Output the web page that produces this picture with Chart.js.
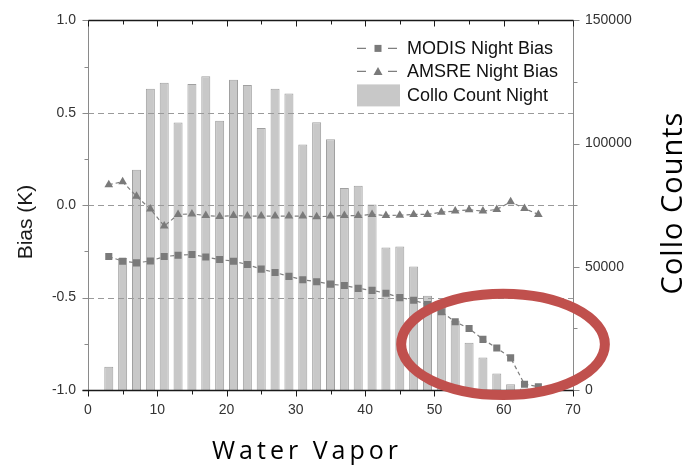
<!DOCTYPE html>
<html>
<head>
<meta charset="utf-8">
<script src="https://cdn.jsdelivr.net/npm/chart.js@4/dist/chart.umd.min.js"></script>
<style>
  html, body { margin: 0; padding: 0; background: #ffffff; }
  canvas { display: block; }
</style>
</head>
<body>
<canvas id="chart" width="687" height="467"></canvas>
<script>
// Water vapor bins (bin centres)
const waterVapor = [3, 5, 7, 9, 11, 13, 15, 17, 19, 21, 23, 25, 27, 29, 31, 33,
                    35, 37, 39, 41, 43, 45, 47, 49, 51, 53, 55, 57, 59, 61, 63, 65];

// Number of collocations per bin (night)
const colloCounts = [9400, 53600, 89400, 122300, 124700, 108600, 124200, 127300,
                     109300, 125900, 123800, 106300, 122300, 120300, 99600, 108700,
                     101800, 82000, 82900, 75300, 57800, 58200, 50100, 38300,
                     34300, 28200, 19200, 13200, 6700, 2300, 600, 300];

// Night-time bias (K)
const modisBias = [-0.278, -0.303, -0.312, -0.302, -0.278, -0.271, -0.267, -0.280,
                   -0.294, -0.303, -0.321, -0.346, -0.364, -0.385, -0.403, -0.414,
                   -0.427, -0.435, -0.450, -0.461, -0.476, -0.500, -0.514, -0.538,
                   -0.577, -0.631, -0.667, -0.726, -0.773, -0.826, -0.969, -0.982];

const amsreBias = [0.111, 0.127, 0.048, -0.020, -0.113, -0.050, -0.047, -0.056,
                   -0.061, -0.056, -0.059, -0.059, -0.059, -0.059, -0.059, -0.063,
                   -0.059, -0.056, -0.056, -0.050, -0.056, -0.054, -0.050, -0.050,
                   -0.038, -0.032, -0.025, -0.032, -0.023, 0.018, -0.018, -0.050];

// Axis ticks
const vaporTicks = [0, 10, 20, 30, 40, 50, 60, 70];
const biasTicks = [-1.0, -0.5, 0.0, 0.5, 1.0];
const countTicks = [0, 50000, 100000, 150000];
const biasGridLines = [-0.5, 0.0, 0.5];

// Highlighted high-vapour region (data units)
const highlightCenter = { x: 59.9, y: -0.753 };
const highlightRadius = { x: 14.7, y: 0.274 };

const TICK_FONT = { family: "'Liberation Sans', Arial, sans-serif", size: 14 };
const MARK_GREY = '#7a7a7a';

function midpoints(arr) {
  const out = [];
  for (let i = 0; i < arr.length - 1; i++) out.push((arr[i] + arr[i + 1]) / 2);
  return out;
}

const framePlugin = {
  id: 'frame',
  afterDatasetDraw(chart, args) {
    // dashed reference lines sit on top of the bars
    if (args.meta.type !== 'bar') return;
    const { ctx, chartArea } = chart;
    const yS = chart.scales.yBias;
    ctx.save();
    ctx.strokeStyle = '#9a9a9a';
    ctx.lineWidth = 1;
    ctx.setLineDash([6, 4]);
    biasGridLines.forEach(v => {
      const y = Math.round(yS.getPixelForValue(v)) + 0.5;
      ctx.beginPath();
      ctx.moveTo(chartArea.left, y);
      ctx.lineTo(chartArea.right, y);
      ctx.stroke();
    });
    ctx.restore();
  },
  afterDatasetsDraw(chart) {
    const { ctx, chartArea: a } = chart;
    const xS = chart.scales.x, yL = chart.scales.yBias, yR = chart.scales.yCount;
    const L = Math.round(a.left) + 0.5, R = Math.round(a.right) + 0.5;
    const T = Math.round(a.top) + 0.5, B = Math.round(a.bottom) + 0.5;
    ctx.save();
    ctx.setLineDash([]);
    ctx.lineWidth = 1;
    const seg = (x1, y1, x2, y2) => { ctx.beginPath(); ctx.moveTo(x1, y1); ctx.lineTo(x2, y2); ctx.stroke(); };

    // left and right axes (grey)
    ctx.strokeStyle = '#8a8a8a';
    seg(L, T, L, B);
    seg(R, T, R, B);
    biasTicks.forEach(v => { const y = Math.round(yL.getPixelForValue(v)) + 0.5; seg(L - 6, y, L, y); });
    midpoints(biasTicks).forEach(v => { const y = Math.round(yL.getPixelForValue(v)) + 0.5; seg(L - 4, y, L, y); });
    countTicks.forEach(v => { const y = Math.round(yR.getPixelForValue(v)) + 0.5; seg(R, y, R + 6, y); });
    midpoints(countTicks).forEach(v => { const y = Math.round(yR.getPixelForValue(v)) + 0.5; seg(R, y, R + 4, y); });

    // bottom and top frame (black)
    ctx.strokeStyle = '#1a1a1a';
    ctx.lineWidth = 1.3;
    seg(L - 6, B, R, B);
    seg(L, T, R, T);
    ctx.lineWidth = 1;
    vaporTicks.forEach(v => {
      const x = Math.round(xS.getPixelForValue(v)) + 0.5;
      seg(x, B, x, B + 6);
      seg(x, T, x, T + 6);
    });
    midpoints(vaporTicks).forEach(v => {
      const x = Math.round(xS.getPixelForValue(v)) + 0.5;
      seg(x, B, x, B + 4);
      seg(x, T, x, T + 4);
    });
    ctx.restore();
  },
  afterDraw(chart) {
    const { ctx, chartArea: a } = chart;
    const xS = chart.scales.x, yL = chart.scales.yBias;
    ctx.save();

    // axis titles
    ctx.fillStyle = '#1a1a1a';
    ctx.textAlign = 'center';
    ctx.textBaseline = 'middle';
    ctx.font = "21px 'Liberation Sans', Arial, sans-serif";
    ctx.save();
    ctx.translate(26, 222);
    ctx.rotate(-Math.PI / 2);
    ctx.fillText('Bias (K)', 0, 0);
    ctx.restore();

    ctx.fillStyle = '#000000';
    ctx.font = "29px 'Open Sans', sans-serif";
    ctx.save();
    ctx.translate(674, 203);
    ctx.rotate(-Math.PI / 2);
    ctx.letterSpacing = '1px';
    ctx.fillText('Collo Counts', 0, 0);
    ctx.restore();

    ctx.save();
    ctx.font = "25px 'Open Sans', sans-serif";
    ctx.letterSpacing = '4px';
    ctx.fillText('Water Vapor', 307, 452);
    ctx.restore();

    // legend
    const lx = a.right - 216, tx = a.right - 166;
    const rows = [
      { label: 'MODIS Night Bias', kind: 'rect', y: a.top + 28 },
      { label: 'AMSRE Night Bias', kind: 'triangle', y: a.top + 51 },
      { label: 'Collo Count Night', kind: 'box', y: a.top + 75 }
    ];
    ctx.font = "18px 'Liberation Sans', Arial, sans-serif";
    ctx.textAlign = 'left';
    rows.forEach(r => {
      if (r.kind === 'box') {
        ctx.fillStyle = '#c8c8c8';
        ctx.fillRect(lx, r.y - 11, 43, 22);
      } else {
        ctx.strokeStyle = '#7f7f7f';
        ctx.lineWidth = 1.2;
        ctx.beginPath();
        ctx.moveTo(lx, r.y); ctx.lineTo(lx + 9, r.y);
        ctx.moveTo(lx + 31, r.y); ctx.lineTo(lx + 40, r.y);
        ctx.stroke();
        ctx.fillStyle = MARK_GREY;
        const cx = lx + 21;
        if (r.kind === 'rect') {
          ctx.fillRect(cx - 3.5, r.y - 3.5, 7, 7);
        } else {
          ctx.beginPath();
          ctx.moveTo(cx, r.y - 4.5);
          ctx.lineTo(cx + 4.5, r.y + 3.5);
          ctx.lineTo(cx - 4.5, r.y + 3.5);
          ctx.closePath();
          ctx.fill();
        }
      }
      ctx.fillStyle = '#111111';
      ctx.fillText(r.label, tx, r.y + 1);
    });

    // highlight ellipse around the high-vapour tail
    const cx = xS.getPixelForValue(highlightCenter.x);
    const cy = yL.getPixelForValue(highlightCenter.y);
    const rx = Math.abs(xS.getPixelForValue(highlightCenter.x + highlightRadius.x) - cx);
    const ry = Math.abs(yL.getPixelForValue(highlightCenter.y + highlightRadius.y) - cy);
    ctx.strokeStyle = '#c0504d';
    ctx.lineWidth = 10;
    ctx.beginPath();
    ctx.ellipse(cx, cy, rx, ry, 0, 0, Math.PI * 2);
    ctx.stroke();

    ctx.restore();
  }
};

const lineStyle = {
  type: 'line',
  yAxisID: 'yBias',
  borderColor: '#7f7f7f',
  borderWidth: 1.2,
  borderDash: [4, 3],
  pointRadius: 5,
  pointBackgroundColor: MARK_GREY,
  pointBorderColor: MARK_GREY,
  pointBorderWidth: 0,
  tension: 0,
  fill: false
};

new Chart(document.getElementById('chart'), {
  data: {
    datasets: [
      Object.assign({}, lineStyle, {
        label: 'MODIS Night Bias',
        order: 1,
        pointStyle: 'rect',
        data: waterVapor.map((x, i) => ({ x: x, y: modisBias[i] }))
      }),
      Object.assign({}, lineStyle, {
        label: 'AMSRE Night Bias',
        order: 2,
        pointStyle: 'triangle',
        data: waterVapor.map((x, i) => ({ x: x, y: amsreBias[i] }))
      }),
      {
        type: 'bar',
        label: 'Collo Count Night',
        order: 3,
        yAxisID: 'yCount',
        backgroundColor: '#c8c8c8',
        borderColor: '#a0a0a0',
        borderWidth: 1,
        barPercentage: 0.65,
        categoryPercentage: 1,
        data: waterVapor.map((x, i) => ({ x: x, y: colloCounts[i] }))
      }
    ]
  },
  options: {
    responsive: false,
    animation: false,
    devicePixelRatio: 1,
    layout: { padding: { top: 18, left: 0, right: 0, bottom: 0 } },
    plugins: { legend: { display: false }, tooltip: { enabled: false } },
    scales: {
      x: {
        type: 'linear',
        position: 'bottom',
        min: 0, max: 70,
        offset: false,
        afterBuildTicks: s => { s.ticks = vaporTicks.map(v => ({ value: v })); },
        afterFit: s => { s.height = 77; },
        grid: { display: false, drawTicks: false, offset: false },
        border: { display: false },
        ticks: { padding: 12, font: TICK_FONT, color: '#333333', maxRotation: 0, callback: v => String(v) }
      },
      yBias: {
        type: 'linear',
        position: 'left',
        min: -1, max: 1,
        afterBuildTicks: s => { s.ticks = biasTicks.map(v => ({ value: v })); },
        afterFit: s => { s.width = 88; },
        grid: { display: false, drawTicks: false },
        border: { display: false },
        ticks: { padding: 12, font: TICK_FONT, color: '#333333', callback: v => Number(v).toFixed(1) }
      },
      yCount: {
        type: 'linear',
        position: 'right',
        min: 0, max: 150000,
        afterBuildTicks: s => { s.ticks = countTicks.map(v => ({ value: v })); },
        afterFit: s => { s.width = 114; },
        grid: { display: false, drawTicks: false },
        border: { display: false },
        ticks: { padding: 12, font: TICK_FONT, color: '#333333', callback: v => String(v) }
      }
    }
  },
  plugins: [framePlugin]
});
</script>
</body>
</html>
